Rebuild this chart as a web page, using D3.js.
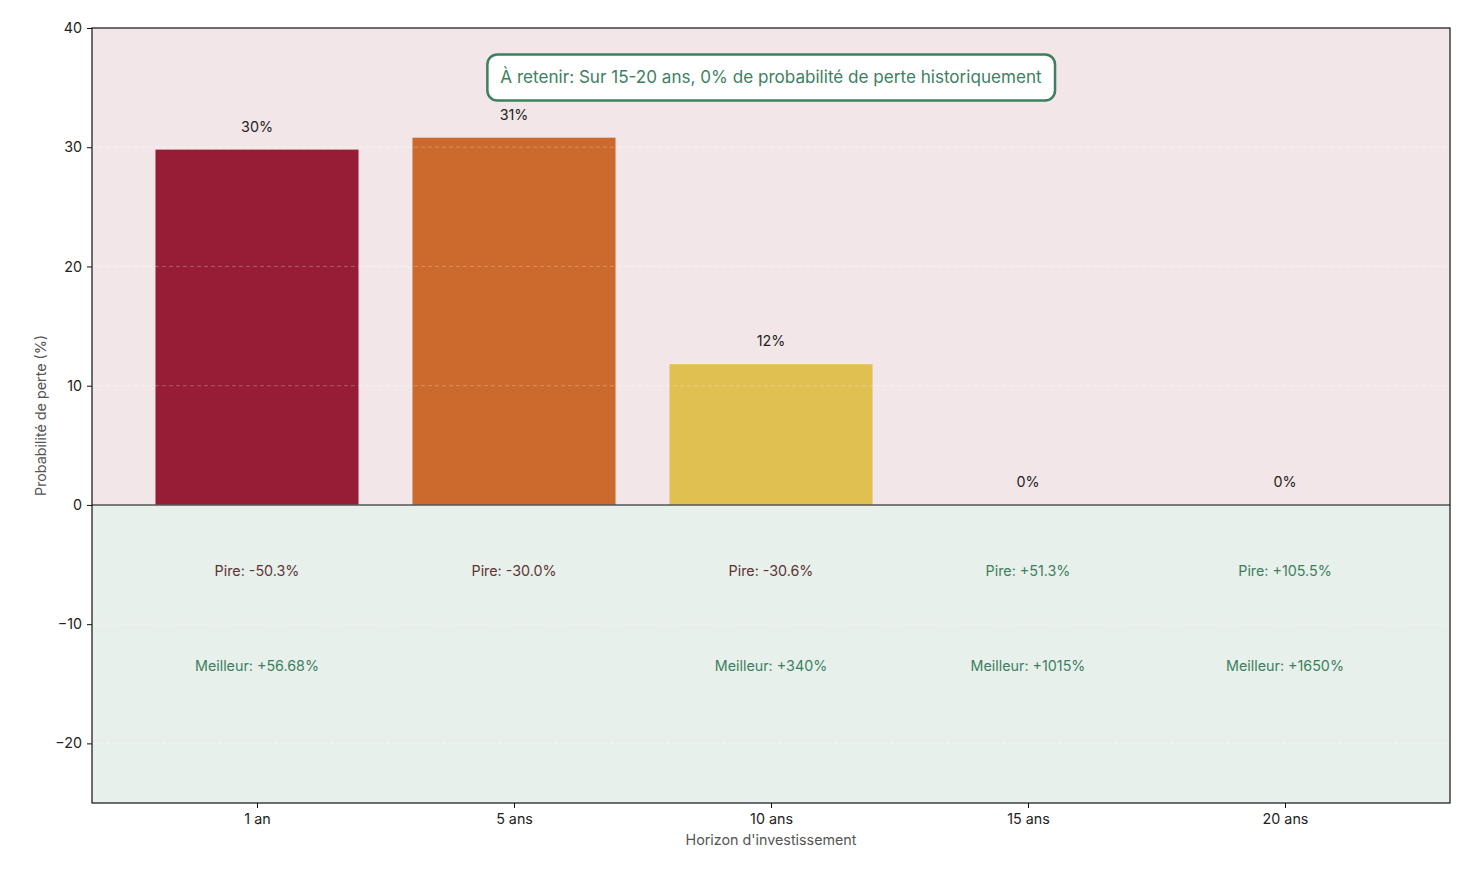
<!DOCTYPE html>
<html><head><meta charset="utf-8">
<script src="https://cdn.jsdelivr.net/npm/d3@7"></script>
<style>
body{margin:0;background:#fff;}
text{font-family:Inter,Lato,sans-serif;}
</style></head>
<body><svg id="c" width="1470" height="884"></svg>
<script>
const categories = ["1 an","5 ans","10 ans","15 ans","20 ans"];
const lossProb = [29.8, 30.8, 11.8, 0, 0];
const lossLabels = ["30%","31%","12%","0%","0%"];
const barColors = ["#961d36","#cb6a2c","#e0c050","#3d7f5f","#3d7f5f"];
const worstReturns = [-50.3, -30.0, -30.6, 51.3, 105.5];
const bestReturns = [56.68, null, 340, 1015, 1650];
const bestLabels = ["+56.68%", null, "+340%", "+1015%", "+1650%"];
const yTicks = [-20,-10,0,10,20,30,40];
const note = "À retenir: Sur 15-20 ans, 0% de probabilité de perte historiquement";

const FS = 14.3;
const svg = d3.select("#c");
const L=92, R=1450, T=28, B=803;
const x = d3.scaleLinear().domain([-0.642, 4.642]).range([L, R]);
const y = d3.scaleLinear().domain([-25, 40]).range([B, T]);
const bw = 0.79;

svg.append("rect").attr("x",L).attr("y",y(40)).attr("width",R-L).attr("height",y(0)-y(40)).attr("fill","#f3e6e8");
svg.append("rect").attr("x",L).attr("y",y(0)).attr("width",R-L).attr("height",y(-25)-y(0)).attr("fill","#e8f0ec");

const gridTicks = yTicks.filter(t=>t!==0 && t!==40);
svg.append("g").selectAll("line").data(gridTicks).join("line")
  .attr("x1",L).attr("x2",R).attr("y1",d=>y(d)).attr("y2",d=>y(d))
  .attr("stroke","#ffffff").attr("stroke-opacity",0.3).attr("stroke-width",0.8).attr("stroke-dasharray","4,3");

svg.append("g").selectAll("rect").data(lossProb).join("rect")
  .attr("x",(d,i)=>x(i-bw/2)).attr("width",(d,i)=>x(i+bw/2)-x(i-bw/2))
  .attr("y",d=>y(d)).attr("height",d=>y(0)-y(d))
  .attr("fill",(d,i)=>barColors[i]);

svg.append("g").selectAll("line").data(gridTicks).join("line")
  .attr("x1",L).attr("x2",R).attr("y1",d=>y(d)).attr("y2",d=>y(d))
  .attr("stroke","#ffffff").attr("stroke-opacity",0.32).attr("stroke-width",0.8).attr("stroke-dasharray","4,3");

svg.append("line").attr("x1",L).attr("x2",R).attr("y1",y(0)).attr("y2",y(0))
  .attr("stroke","#555").attr("stroke-width",1.5);

svg.append("g").selectAll("text").data(lossProb).join("text")
  .attr("x",(d,i)=>x(i)).attr("y",d=>y(d+1.5)).attr("text-anchor","middle")
  .attr("font-size",FS).attr("fill","#222").text((d,i)=>lossLabels[i]);

svg.append("g").selectAll("text").data(worstReturns).join("text")
  .attr("x",(d,i)=>x(i)).attr("y",y(-5.5)).attr("dy","0.35em").attr("text-anchor","middle")
  .attr("font-size",FS).attr("fill",d=>d<0?"#5e3434":"#3d7f5f")
  .text(d=>"Pire: "+(d>0?"+":"")+d.toFixed(1)+"%");

svg.append("g").selectAll("text").data(bestReturns.map((v,i)=>({v,i})).filter(o=>o.v!==null)).join("text")
  .attr("x",o=>x(o.i)).attr("y",y(-13.5)).attr("dy","0.35em").attr("text-anchor","middle")
  .attr("font-size",FS).attr("fill","#3d7f5f")
  .text(o=>"Meilleur: "+bestLabels[o.i]);

const cx=(L+R)/2, cy=77.5;
const nt = svg.append("text").attr("x",cx).attr("y",cy).attr("dy","0.35em").attr("text-anchor","middle")
  .attr("font-size",17.1).attr("fill","#3d7f5f").text(note);
const bb = nt.node().getBBox();
svg.insert("rect", () => nt.node())
  .attr("x",bb.x-13).attr("y",cy-23).attr("width",bb.width+26).attr("height",46)
  .attr("rx",10).attr("fill","#fff").attr("stroke","#3d7f5f").attr("stroke-width",2.5);

svg.append("rect").attr("x",L).attr("y",T).attr("width",R-L).attr("height",B-T)
  .attr("fill","none").attr("stroke","#111").attr("stroke-width",1.2);

const yAxis = d3.axisLeft(y).tickValues(yTicks).tickSize(5).tickPadding(5)
  .tickFormat(d=>d<0?"\u2212"+Math.abs(d):d);
const gy = svg.append("g").attr("transform",`translate(${L},0)`).call(yAxis);
gy.select(".domain").remove();
gy.selectAll("text").attr("font-size",FS).attr("fill","#222").style("font-family","Inter,sans-serif");
gy.selectAll("line").attr("stroke","#111");

const xAxis = d3.axisBottom(x).tickValues(d3.range(categories.length)).tickSize(5).tickPadding(6)
  .tickFormat(i=>categories[i]);
const gx = svg.append("g").attr("transform",`translate(0,${B})`).call(xAxis);
gx.select(".domain").remove();
gx.selectAll("text").attr("font-size",FS).attr("fill","#222").style("font-family","Inter,sans-serif");
gx.selectAll("line").attr("stroke","#111");

svg.append("text").attr("x",(L+R)/2).attr("y",845).attr("text-anchor","middle")
  .attr("font-size",FS).attr("fill","#555").text("Horizon d'investissement");
svg.append("text").attr("transform",`translate(46,${(T+B)/2}) rotate(-90)`).attr("text-anchor","middle")
  .attr("font-size",FS).attr("fill","#555").text("Probabilité de perte (%)");
</script></body></html>
